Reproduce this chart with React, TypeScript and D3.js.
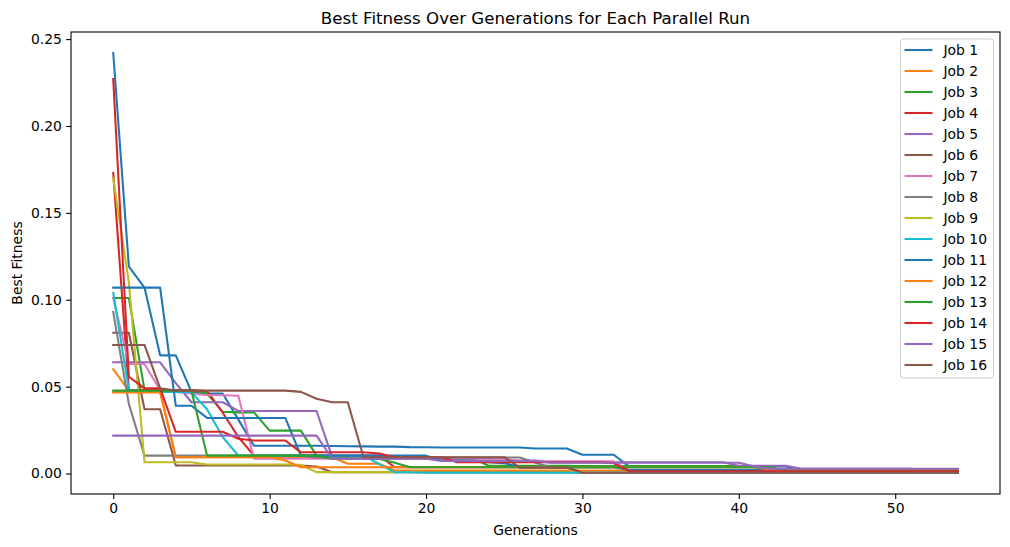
import * as d3 from "d3";
import React, { useRef, useEffect } from "react";

const W = 1010;
const H = 547;
const margin = { top: 32, right: 10, bottom: 53, left: 71 };
const FONT = "DejaVu Sans, sans-serif";

const palette = ["#1f77b4", "#ff7f0e", "#2ca02c", "#d62728", "#9467bd", "#8c564b", "#e377c2", "#7f7f7f", "#bcbd22", "#17becf"];

const xTicks = [0, 10, 20, 30, 40, 50];
const yTicks = [0, 0.05, 0.1, 0.15, 0.2, 0.25];

const job1 = [
	0.242, 0.119, 0.107, 0.068, 0.068, 0.047, 0.046, 0.046, 0.031, 0.016,
	0.016, 0.016, 0.016, 0.016, 0.0158, 0.0157, 0.0156, 0.0155, 0.0155, 0.0152,
	0.0151, 0.015, 0.015, 0.015, 0.015, 0.015, 0.015, 0.0144, 0.0144, 0.0144,
	0.0108, 0.0108, 0.0108, 0.004, 0.004, 0.004, 0.004, 0.004, 0.004, 0.004,
	0.004, 0.004, 0.004, 0.004, 0.0025, 0.0025, 0.0025, 0.0025, 0.0025, 0.0025,
	0.0025, 0.0025, 0.0025, 0.0025, 0.0025,
];
const job2 = [
	0.06, 0.0477, 0.047, 0.047, 0.0094, 0.0094, 0.0094, 0.0094, 0.0094, 0.0094,
	0.0094, 0.0094, 0.0094, 0.0094, 0.0094, 0.0056, 0.0056, 0.0056, 0.0017, 0.0017,
	0.0017, 0.0017, 0.0017, 0.0017, 0.0017, 0.0017, 0.0017, 0.0017, 0.0017, 0.0017,
	0.0017, 0.0017, 0.0017, 0.0017, 0.0017, 0.0017, 0.0017, 0.0017, 0.0017, 0.0017,
	0.0017, 0.0012, 0.0012, 0.0012, 0.0012, 0.0012, 0.0012, 0.0012, 0.0012, 0.0012,
	0.0012, 0.0012, 0.0012, 0.0012, 0.0012,
];
const job3 = [
	0.101, 0.101, 0.048, 0.048, 0.048, 0.048, 0.046, 0.0355, 0.0352, 0.0352,
	0.0247, 0.0247, 0.0247, 0.0103, 0.0087, 0.0087, 0.0087, 0.0087, 0.0087, 0.0087,
	0.0087, 0.0087, 0.0087, 0.0087, 0.0045, 0.0045, 0.0045, 0.0045, 0.0045, 0.0045,
	0.0043, 0.0043, 0.0043, 0.0043, 0.0043, 0.0043, 0.0043, 0.0043, 0.0043, 0.0043,
	0.0043, 0.0043, 0.002, 0.002, 0.002, 0.002, 0.002, 0.002, 0.002, 0.002,
	0.0018, 0.0018, 0.0018, 0.0018, 0.0018,
];
const job4 = [
	0.173, 0.048, 0.048, 0.048, 0.048, 0.048, 0.0475, 0.035, 0.021, 0.0103,
	0.0103, 0.0103, 0.0103, 0.0103, 0.0103, 0.0103, 0.0103, 0.0103, 0.0036, 0.0036,
	0.0036, 0.0036, 0.0036, 0.0036, 0.0036, 0.0036, 0.0036, 0.0036, 0.0036, 0.0036,
	0.0006, 0.0006, 0.0006, 0.0006, 0.0006, 0.0006, 0.0006, 0.0006, 0.0006, 0.0006,
	0.0006, 0.0006, 0.0006, 0.0006, 0.0006, 0.0006, 0.0006, 0.0006, 0.0006, 0.0006,
	0.0006, 0.0006, 0.0006, 0.0006, 0.0006,
];
const job5 = [
	0.064, 0.064, 0.064, 0.064, 0.052, 0.041, 0.041, 0.041, 0.036, 0.036,
	0.036, 0.036, 0.036, 0.036, 0.0094, 0.0094, 0.0094, 0.0094, 0.0094, 0.0094,
	0.0094, 0.0075, 0.0075, 0.0075, 0.0075, 0.0075, 0.0075, 0.0075, 0.0065, 0.0065,
	0.0065, 0.0065, 0.0065, 0.0065, 0.0065, 0.0065, 0.0065, 0.0065, 0.0065, 0.0065,
	0.0045, 0.0045, 0.0045, 0.0045, 0.0027, 0.0027, 0.0027, 0.0027, 0.0027, 0.0027,
	0.0027, 0.0027, 0.0017, 0.0017, 0.0017,
];
const job6 = [
	0.081, 0.081, 0.037, 0.037, 0.0046, 0.0046, 0.0046, 0.0046, 0.0046, 0.0046,
	0.0046, 0.0046, 0.0046, 0.004, 0.0007, 0.0007, 0.0007, 0.0007, 0.0007, 0.0007,
	0.0007, 0.0007, 0.0007, 0.0007, 0.0007, 0.0007, 0.0007, 0.0007, 0.0007, 0.0007,
	0.0003, 0.0003, 0.0003, 0.0003, 0.0003, 0.0003, 0.0003, 0.0003, 0.0003, 0.0003,
	0.0003, 0.0003, 0.0003, 0.0003, 0.0003, 0.0003, 0.0003, 0.0003, 0.0003, 0.0003,
	0.0003, 0.0003, 0.0003, 0.0003, 0.0003,
];
const job7 = [
	0.101, 0.063, 0.063, 0.048, 0.047, 0.046, 0.045, 0.045, 0.0448, 0.0085,
	0.0085, 0.0085, 0.0085, 0.0085, 0.0085, 0.0085, 0.0085, 0.0085, 0.0085, 0.0085,
	0.0085, 0.0085, 0.0085, 0.0085, 0.0085, 0.0085, 0.007, 0.007, 0.007, 0.007,
	0.007, 0.007, 0.007, 0.0015, 0.0015, 0.0015, 0.0015, 0.0015, 0.0015, 0.0015,
	0.0015, 0.0015, 0.0015, 0.0015, 0.0015, 0.0015, 0.0015, 0.0015, 0.0015, 0.0015,
	0.0015, 0.0015, 0.0015, 0.0015, 0.0015,
];
const job8 = [
	0.093, 0.04, 0.0103, 0.0103, 0.0103, 0.0103, 0.0103, 0.0103, 0.0103, 0.0103,
	0.0103, 0.0103, 0.0103, 0.0092, 0.0092, 0.0092, 0.0092, 0.0092, 0.0092, 0.0092,
	0.0092, 0.0092, 0.0092, 0.0092, 0.0092, 0.0092, 0.0092, 0.0062, 0.0036, 0.0036,
	0.0036, 0.0036, 0.0036, 0.0036, 0.0036, 0.0036, 0.0036, 0.0036, 0.0036, 0.0036,
	0.0036, 0.0036, 0.0012, 0.0012, 0.0012, 0.0012, 0.0012, 0.0012, 0.0012, 0.0012,
	0.0012, 0.0012, 0.0012, 0.0012, 0.0012,
];
const job9 = [
	0.17, 0.11, 0.0065, 0.0065, 0.0065, 0.0065, 0.0052, 0.0052, 0.0052, 0.0052,
	0.0052, 0.0052, 0.005, 0.0008, 0.0008, 0.0008, 0.0008, 0.0008, 0.0008, 0.0008,
	0.0006, 0.0006, 0.0006, 0.0006, 0.0006, 0.0006, 0.0006, 0.0006, 0.0006, 0.0006,
	0.0006, 0.0006, 0.0006, 0.0006, 0.0006, 0.0006, 0.0006, 0.0006, 0.0006, 0.0006,
	0.0006, 0.0006, 0.0006, 0.0006, 0.0006, 0.0006, 0.0006, 0.0006, 0.0006, 0.0006,
	0.0006, 0.0006, 0.0006, 0.0006, 0.0006,
];
const job10 = [
	0.104, 0.048, 0.047, 0.047, 0.047, 0.0467, 0.037, 0.021, 0.0103, 0.0103,
	0.0103, 0.0103, 0.0103, 0.0103, 0.0103, 0.0103, 0.0103, 0.0055, 0.0007, 0.0007,
	0.0004, 0.0004, 0.0004, 0.0004, 0.0004, 0.0004, 0.0004, 0.0004, 0.0004, 0.0004,
	0.0004, 0.0004, 0.0004, 0.0004, 0.0004, 0.0004, 0.0004, 0.0004, 0.0004, 0.0004,
	0.0004, 0.0004, 0.0004, 0.0004, 0.0004, 0.0004, 0.0004, 0.0004, 0.0004, 0.0004,
	0.0004, 0.0004, 0.0004, 0.0004, 0.0004,
];
const job11 = [
	0.107, 0.107, 0.107, 0.107, 0.039, 0.039, 0.032, 0.032, 0.032, 0.032,
	0.032, 0.032, 0.0103, 0.0103, 0.0103, 0.0103, 0.0103, 0.0103, 0.0103, 0.0103,
	0.0103, 0.0075, 0.0075, 0.0075, 0.0065, 0.006, 0.0036, 0.0036, 0.0036, 0.0036,
	0.0036, 0.0036, 0.0036, 0.002, 0.002, 0.002, 0.002, 0.002, 0.002, 0.002,
	0.002, 0.002, 0.002, 0.002, 0.002, 0.002, 0.002, 0.002, 0.002, 0.002,
	0.002, 0.002, 0.002, 0.002, 0.002,
];
const job12 = [
	0.0467, 0.0467, 0.0467, 0.0467, 0.0094, 0.0094, 0.0094, 0.0094, 0.0094, 0.0094,
	0.0094, 0.0075, 0.0036, 0.0036, 0.0036, 0.0036, 0.0036, 0.0036, 0.0036, 0.0036,
	0.0036, 0.0036, 0.0036, 0.0036, 0.0036, 0.0036, 0.0036, 0.0036, 0.0036, 0.0036,
	0.0036, 0.0036, 0.0036, 0.0036, 0.0036, 0.0036, 0.0036, 0.0036, 0.0036, 0.0036,
	0.0036, 0.0036, 0.0022, 0.0022, 0.0022, 0.0022, 0.0022, 0.0022, 0.0022, 0.0022,
	0.0022, 0.0022, 0.0022, 0.0022, 0.0022,
];
const job13 = [
	0.0477, 0.0477, 0.0477, 0.0477, 0.0477, 0.0477, 0.0103, 0.0103, 0.0103, 0.0103,
	0.0103, 0.0103, 0.0103, 0.0103, 0.0085, 0.0085, 0.0085, 0.0085, 0.0062, 0.0036,
	0.0036, 0.0036, 0.0036, 0.0036, 0.0036, 0.0036, 0.0036, 0.0036, 0.0036, 0.0036,
	0.0036, 0.0036, 0.0036, 0.0036, 0.0036, 0.0036, 0.0036, 0.0036, 0.0036, 0.0036,
	0.0036, 0.0036, 0.0036, 0.0017, 0.0017, 0.0017, 0.0017, 0.0017, 0.0017, 0.0017,
	0.0017, 0.0017, 0.0017, 0.0017, 0.0017,
];
const job14 = [
	0.227, 0.0557, 0.049, 0.049, 0.024, 0.024, 0.024, 0.024, 0.02, 0.019,
	0.019, 0.019, 0.0122, 0.0122, 0.0122, 0.0122, 0.0122, 0.0115, 0.0094, 0.0094,
	0.0094, 0.0094, 0.0065, 0.0065, 0.0065, 0.0065, 0.0065, 0.0065, 0.0065, 0.0065,
	0.0065, 0.0065, 0.006, 0.0013, 0.0013, 0.0013, 0.0013, 0.0013, 0.0013, 0.0013,
	0.0013, 0.0013, 0.0013, 0.0013, 0.0013, 0.0013, 0.0013, 0.0013, 0.0013, 0.0013,
	0.0013, 0.0013, 0.0013, 0.0013, 0.0013,
];
const job15 = [
	0.0218, 0.0218, 0.0218, 0.0218, 0.0218, 0.0218, 0.0218, 0.0218, 0.0218, 0.0218,
	0.0218, 0.0218, 0.0218, 0.0218, 0.0085, 0.0085, 0.0085, 0.0085, 0.0085, 0.0085,
	0.0085, 0.0072, 0.0072, 0.0072, 0.0072, 0.0072, 0.0072, 0.0072, 0.0062, 0.0062,
	0.0062, 0.0062, 0.0062, 0.0062, 0.0062, 0.0062, 0.0062, 0.0062, 0.0062, 0.0062,
	0.0062, 0.004, 0.0027, 0.0027, 0.0027, 0.0027, 0.0027, 0.0027, 0.0027, 0.0027,
	0.0027, 0.0027, 0.0027, 0.0027, 0.0027,
];
const job16 = [
	0.074, 0.074, 0.074, 0.049, 0.0477, 0.0477, 0.0477, 0.0477, 0.0477, 0.0477,
	0.0477, 0.0477, 0.047, 0.043, 0.041, 0.041, 0.0094, 0.0094, 0.0094, 0.0094,
	0.0094, 0.0094, 0.0094, 0.0094, 0.0094, 0.0094, 0.0034, 0.0034, 0.0034, 0.0034,
	0.0004, 0.0004, 0.0004, 0.0004, 0.0004, 0.0004, 0.0004, 0.0004, 0.0004, 0.0004,
	0.0004, 0.0004, 0.0004, 0.0004, 0.0004, 0.0004, 0.0004, 0.0004, 0.0004, 0.0004,
	0.0004, 0.0004, 0.0004, 0.0004, 0.0004,
];

const jobs = [job1, job2, job3, job4, job5, job6, job7, job8, job9, job10, job11, job12, job13, job14, job15, job16];
const jobNames = jobs.map((_, i) => `Job ${i + 1}`);

const App = () => {
	const ref = useRef<SVGSVGElement>(null);

	useEffect(() => {
		if (!ref.current) return;
		const svg = d3.select(ref.current);
		svg.selectAll("*").remove();

		const innerW = W - margin.left - margin.right;
		const innerH = H - margin.top - margin.bottom;
		const n = job1.length - 1;

		const all = jobs.flat();
		const lo = d3.min(all) as number;
		const hi = d3.max(all) as number;
		const pad = (hi - lo) * 0.05;

		const x = d3.scaleLinear().domain([-n * 0.05, n * 1.05]).range([0, innerW]);
		const y = d3.scaleLinear().domain([lo - pad, hi + pad]).range([innerH, 0]);

		const g = svg.append("g").attr("transform", `translate(${margin.left},${margin.top})`);

		// lines
		const line = d3
			.line<number>()
			.x((_, i) => x(i))
			.y((d) => y(d));

		jobs.forEach((data, i) => {
			g.append("path")
				.datum(data)
				.attr("fill", "none")
				.attr("stroke", palette[i % 10])
				.attr("stroke-width", 2.08)
				.attr("stroke-linejoin", "round")
				.attr("stroke-linecap", "square")
				.attr("d", line);
		});

		// axes
		const xAxis = g
			.append("g")
			.attr("transform", `translate(0,${innerH})`)
			.call(d3.axisBottom(x).tickValues(xTicks).tickSize(4.9).tickPadding(4.2).tickFormat(d3.format("d")));
		const yAxis = g
			.append("g")
			.call(d3.axisLeft(y).tickValues(yTicks).tickSize(4.9).tickPadding(4.2).tickFormat(d3.format(".2f")));

		[xAxis, yAxis].forEach((ax) => {
			ax.select(".domain").remove();
			ax.selectAll("line").attr("stroke", "#000").attr("stroke-width", 1.1);
			ax.selectAll("text").attr("fill", "#000").style("font-family", FONT).style("font-size", "13.9px");
		});

		g.append("rect")
			.attr("x", 0)
			.attr("y", 0)
			.attr("width", innerW)
			.attr("height", innerH)
			.attr("fill", "none")
			.attr("stroke", "#000")
			.attr("stroke-width", 1.1);

		// labels
		svg.append("text")
			.attr("x", margin.left + innerW / 2)
			.attr("y", 24)
			.attr("text-anchor", "middle")
			.style("font-family", FONT)
			.style("font-size", "16.67px")
			.text("Best Fitness Over Generations for Each Parallel Run");

		svg.append("text")
			.attr("x", margin.left + innerW / 2)
			.attr("y", 535)
			.attr("text-anchor", "middle")
			.style("font-family", FONT)
			.style("font-size", "13.9px")
			.text("Generations");

		svg.append("text")
			.attr("transform", `translate(22,${margin.top + innerH / 2}) rotate(-90)`)
			.attr("text-anchor", "middle")
			.style("font-family", FONT)
			.style("font-size", "13.9px")
			.text("Best Fitness");

		// legend
		const lg = svg.append("g").attr("transform", "translate(900.5,39)");
		lg.append("rect")
			.attr("width", 93)
			.attr("height", 339)
			.attr("rx", 3)
			.attr("fill", "#fff")
			.attr("fill-opacity", 0.8)
			.attr("stroke", "#cccccc")
			.attr("stroke-width", 1);

		const rows = lg
			.selectAll(".row")
			.data(jobNames)
			.enter()
			.append("g")
			.attr("class", "row")
			.attr("transform", (_, i) => `translate(0,${11 + i * 21})`);

		rows.append("line")
			.attr("x1", 4)
			.attr("x2", 32)
			.attr("stroke", (_, i) => palette[i % 10])
			.attr("stroke-width", 2.08);

		rows.append("text")
			.attr("x", 43)
			.attr("dy", "0.35em")
			.style("font-family", FONT)
			.style("font-size", "13.9px")
			.text((d) => d);
	}, []);

	return (
		<svg
			ref={ref}
			width={W}
			height={H}
			style={{ position: "absolute", left: 0, top: 0, background: "white" }}
		/>
	);
};

export default App;
